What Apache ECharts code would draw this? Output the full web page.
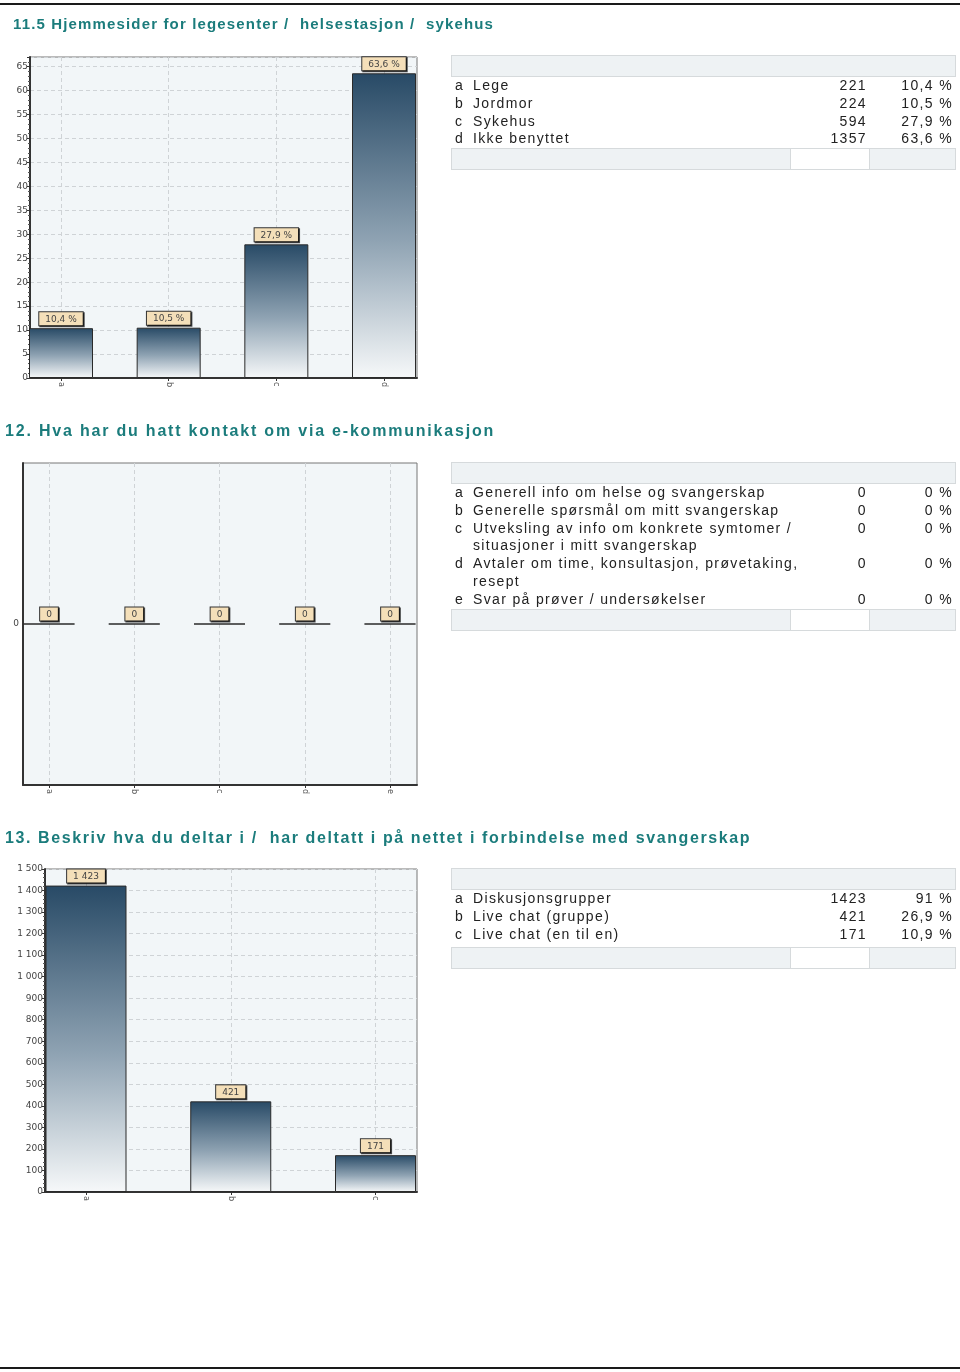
<!DOCTYPE html>
<html><head><meta charset="utf-8">
<script src="https://cdn.jsdelivr.net/npm/echarts@6/dist/echarts.min.js"></script>
<style>
html,body{margin:0;padding:0;background:#fff;}
#page{position:relative;width:960px;height:1372px;overflow:hidden;background:#fff;}
#chart{position:absolute;left:0;top:0;width:960px;height:1372px;}
.rule{position:absolute;left:0;width:960px;height:2px;background:#1a1a1a;}
.title{position:absolute;font-family:"Liberation Sans",Arial,sans-serif;font-weight:bold;font-size:16px;line-height:18px;letter-spacing:1.7px;color:#1b7c7c;white-space:pre;}
.tbl{position:absolute;left:451px;width:505px;font-family:"Liberation Sans",Arial,sans-serif;font-size:14px;letter-spacing:1.35px;color:#222;}
.hdr{height:22px;background:#eef2f4;border:1px solid #d6dadc;box-sizing:border-box;}
.row{display:flex;line-height:17.8px;}
.c1{width:22px;padding-left:4px;box-sizing:border-box;}
.c2{width:330px;white-space:pre-line;}
.c3{width:65px;text-align:right;padding-right:1px;box-sizing:border-box;}
.c4{width:88px;text-align:right;padding-right:3px;box-sizing:border-box;}
.ftr{display:flex;height:22px;}
.ftr div{border:1px solid #d6dadc;box-sizing:border-box;height:22px;}
</style>
</head><body>
<div id="page">
  <div class="rule" style="top:3px"></div>
  <div class="rule" style="top:1367px"></div>
  <div id="chart"></div>
</div>
<script>
// ---------- data ----------
const title1 = '11.5 Hjemmesider for legesenter /  helsestasjon /  sykehus';
const cat1 = ['a','b','c','d'];
const labels1 = ['Lege','Jordmor','Sykehus','Ikke benyttet'];
const counts1 = [221,224,594,1357];
const pct1 = [10.4,10.5,27.9,63.6];

const title2 = '12. Hva har du hatt kontakt om via e-kommunikasjon';
const cat2 = ['a','b','c','d','e'];
const labels2 = ['Generell info om helse og svangerskap','Generelle spørsmål om mitt svangerskap','Utveksling av info om konkrete symtomer /\nsituasjoner i mitt svangerskap','Avtaler om time, konsultasjon, prøvetaking,\nresept','Svar på prøver / undersøkelser'];
const counts2 = [0,0,0,0,0];
const pct2 = [0,0,0,0,0];

const title3 = '13. Beskriv hva du deltar i /  har deltatt i på nettet i forbindelse med svangerskap';
const cat3 = ['a','b','c'];
const labels3 = ['Diskusjonsgrupper','Live chat (gruppe)','Live chat (en til en)'];
const counts3 = [1423,421,171];
const pct3 = [91,26.9,10.9];

// ---------- formatting ----------
const fmtPct = v => (Number.isInteger(v) ? String(v) : v.toFixed(1).replace('.', ',')) + ' %';
const fmtThousands = v => {
  const s = String(Math.round(v));
  return s.replace(/\B(?=(\d{3})+(?!\d))/g, ' ');
};

// ---------- HTML titles & tables ----------
const page = document.getElementById('page');
function addTitle(text, left, top, style) {
  const d = document.createElement('div');
  d.className = 'title'; d.style.left = left + 'px'; d.style.top = top + 'px';
  if (style) Object.assign(d.style, style);
  d.textContent = text; page.appendChild(d);
}
function addTable(top, cats, labels, counts, pcts, rowsTopPad, footGap) {
  const t = document.createElement('div');
  t.className = 'tbl'; t.style.top = top + 'px';
  let h = '<div class="hdr"></div><div style="height:' + rowsTopPad + 'px"></div>';
  cats.forEach((c, i) => {
    h += '<div class="row"><div class="c1">' + c + '</div><div class="c2">' + labels[i] +
      '</div><div class="c3">' + counts[i] + '</div><div class="c4">' + fmtPct(pcts[i]) + '</div></div>';
  });
  h += '<div style="height:' + footGap + 'px"></div>';
  h += '<div class="ftr"><div style="width:340px;background:#eef2f4"></div><div style="width:78px;background:#fff;border-left:none;border-right:none"></div><div style="width:87px;background:#eef2f4"></div></div>';
  t.innerHTML = h; page.appendChild(t);
}
addTitle(title1, 13, 15, { fontSize: '15px', letterSpacing: '1.15px' });
addTitle(title2, 5, 422, { letterSpacing: '1.8px' });
addTitle(title3, 5, 829, { letterSpacing: '1.6px' });
addTable(55, cat1, labels1, counts1, pct1, 0, 0);
addTable(462, cat2, labels2, counts2, pct2, 0, 0);
addTable(868, cat3, labels3, counts3, pct3, 0, 4);

// ---------- chart ----------
const grids = [], xAxes = [], yAxes = [], series = [];
const gradient = new echarts.graphic.LinearGradient(0, 0, 0, 1, [
  { offset: 0, color: '#284a66' },
  { offset: 0.55, color: '#8fa3b3' },
  { offset: 1, color: '#f6f8f9' }
]);
function addChart(cfg) {
  const gi = grids.length;
  // box grid
  grids.push({ left: cfg.left, top: cfg.top, width: cfg.width, height: cfg.height, show: true,
    backgroundColor: '#f2f6f8', borderColor: '#777', borderWidth: 1 });
  // bar grid
  grids.push({ left: cfg.c0, top: cfg.top, width: cfg.c1 - cfg.c0, height: cfg.height, show: false });
  const xi = xAxes.length, yi = yAxes.length;
  xAxes.push({ gridIndex: gi, type: 'value', min: 0, max: 1, show: true, position: 'bottom',
    axisLine: { show: true, onZero: false, lineStyle: { color: '#333', width: 2 } },
    axisTick: { show: false }, axisLabel: { show: false }, splitLine: { show: false } });
  yAxes.push({ gridIndex: gi, type: 'value', min: cfg.min, max: cfg.max, interval: cfg.interval,
    axisLine: { show: true, onZero: false, lineStyle: { color: '#333', width: 2 } },
    axisTick: { show: cfg.ticks, length: 3, lineStyle: { color: '#333' } },
    minorTick: { show: cfg.ticks, splitNumber: 5, length: 2, lineStyle: { color: '#555' } },
    axisLabel: { fontSize: 9, color: '#444', margin: cfg.ticks ? 2 : 4, fontFamily: 'DejaVu Sans',
      showMaxLabel: cfg.showMax, formatter: cfg.yfmt },
    splitLine: { show: cfg.hlines, lineStyle: { color: '#cfd3d6', type: [4, 3], width: 1 } } });
  xAxes.push({ gridIndex: gi + 1, type: 'category', data: cfg.cats, boundaryGap: false,
    axisLine: { show: false, onZero: false },
    axisTick: { show: true, length: 3, inside: false, lineStyle: { color: '#333' } },
    axisLabel: { rotate: -90, fontSize: 8, color: '#555', margin: 4, fontFamily: 'DejaVu Sans' },
    splitLine: { show: true, lineStyle: { color: '#cfd3d6', type: [4, 3], width: 1 } } });
  yAxes.push({ gridIndex: gi + 1, type: 'value', min: cfg.min, max: cfg.max, show: false,
    splitLine: { show: false } });
  series.push({ type: 'bar', xAxisIndex: xi + 1, yAxisIndex: yi + 1, data: cfg.values,
    barWidth: cfg.barWidth, clip: false, z: 3,
    itemStyle: { color: gradient, borderColor: '#2a2a2a', borderWidth: 1 },
    label: { show: true, position: 'top', distance: 3, formatter: p => cfg.lfmt(p.value),
      fontSize: 9, color: '#444', fontFamily: 'DejaVu Sans', backgroundColor: '#f4dfb9',
      borderColor: '#333', borderWidth: 1, padding: [2, 6, 1, 6], lineHeight: 10,
      shadowColor: 'rgba(0,0,0,0.7)', shadowOffsetX: 1, shadowOffsetY: 1, shadowBlur: 0 } });
}
addChart({ left: 30, top: 57, width: 387, height: 321, c0: 61, c1: 384, cats: cat1, values: pct1,
  min: 0, max: 67, interval: 5, ticks: true, hlines: true, showMax: false, barWidth: 64,
  yfmt: v => String(v), lfmt: fmtPct });
addChart({ left: 23, top: 463, width: 394, height: 322, c0: 49, c1: 390, cats: cat2, values: counts2,
  min: -1, max: 1, interval: 1, ticks: false, hlines: false, showMax: false, barWidth: 51,
  yfmt: v => (v === 0 ? '0' : ''), lfmt: v => String(v) });
addChart({ left: 45, top: 869, width: 372, height: 323, c0: 86, c1: 375.5, cats: cat3, values: counts3,
  min: 0, max: 1500, interval: 100, ticks: true, hlines: true, showMax: true, barWidth: 81,
  yfmt: v => fmtThousands(v), lfmt: v => fmtThousands(v) });

const chart = echarts.init(document.getElementById('chart'), null, { renderer: 'canvas' });
chart.setOption({ animation: false, backgroundColor: 'transparent', grid: grids, xAxis: xAxes, yAxis: yAxes, series });
</script>
</body></html>
